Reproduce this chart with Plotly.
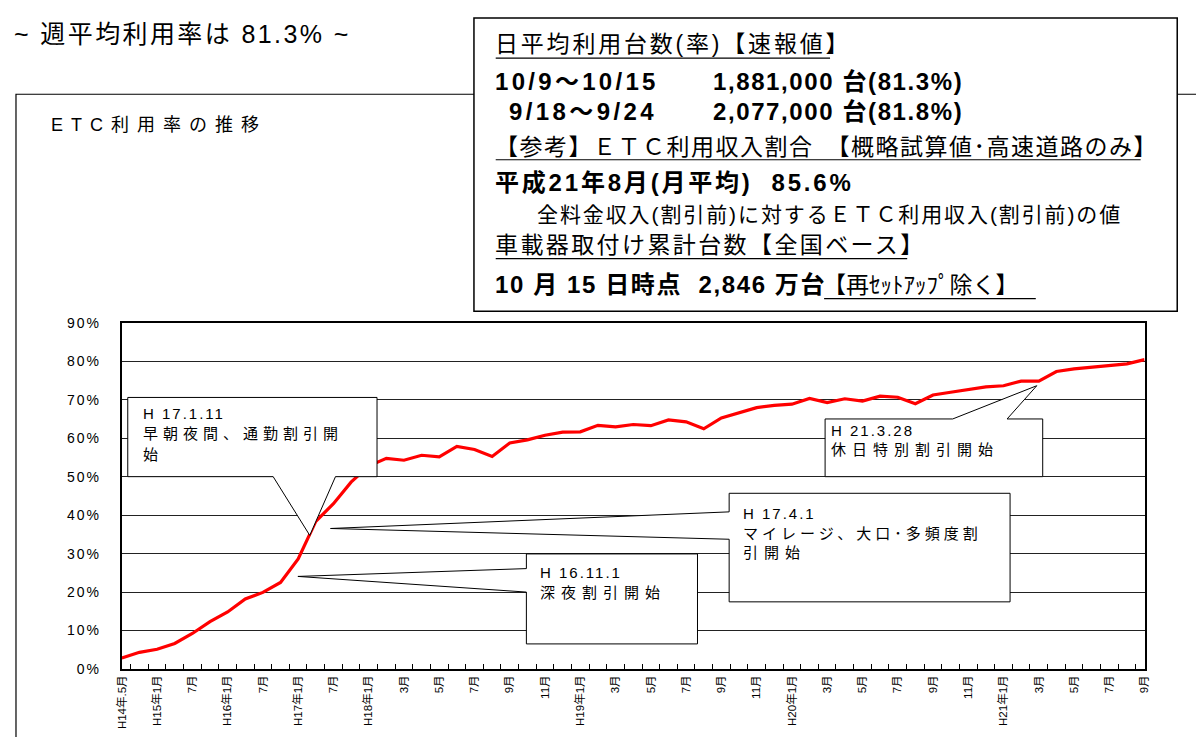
import plotly.graph_objects as go

# ---------------- data ----------------
months = [
    "H14.5", "H14.9", "H15.1", "H15.4", "H15.7", "H15.10", "H16.1", "H16.4", "H16.7", "H16.10",
    "H17.1", "H17.4", "H17.7", "H17.10", "H18.1", "H18.2", "H18.3", "H18.4", "H18.5", "H18.6",
    "H18.7", "H18.8", "H18.9", "H18.10", "H18.11", "H18.12", "H19.1", "H19.2", "H19.3", "H19.4",
    "H19.5", "H19.6", "H19.7", "H19.8", "H19.9", "H19.10", "H19.11", "H19.12", "H20.1", "H20.2",
    "H20.3", "H20.4", "H20.5", "H20.6", "H20.7", "H20.8", "H20.9", "H20.10", "H20.11", "H20.12",
    "H21.1", "H21.2", "H21.3", "H21.4", "H21.5", "H21.6", "H21.7", "H21.8", "H21.9",
]
tick_labels = [
    "H14年.5月", "", "H15年1月", "", "7月", "", "H16年1月", "", "7月", "",
    "H17年1月", "", "7月", "", "H18年1月", "", "3月", "", "5月", "",
    "7月", "", "9月", "", "11月", "", "H19年1月", "", "3月", "",
    "5月", "", "7月", "", "9月", "", "11月", "", "H20年1月", "",
    "3月", "", "5月", "", "7月", "", "9月", "", "11月", "",
    "H21年1月", "", "3月", "", "5月", "", "7月", "", "9月",
]
etc_rate = [
    2.8, 4.3, 5.1, 6.6, 9.2, 12.3, 14.8, 18.2, 19.9, 22.5,
    28.6, 38.4, 43.0, 48.6, 52.8, 54.8, 54.3, 55.6, 55.2, 57.9,
    57.1, 55.3, 58.8, 59.6, 60.8, 61.6, 61.7, 63.4, 63.0, 63.6,
    63.3, 64.8, 64.3, 62.5, 65.3, 66.7, 68.0, 68.6, 68.9, 70.4,
    69.3, 70.3, 69.7, 71.0, 70.7, 69.0, 71.3, 72.0, 72.7, 73.4,
    73.7, 74.9, 74.9, 77.4, 78.1, 78.6, 78.9, 79.4, 80.5,
]
y_ticks = [0, 10, 20, 30, 40, 50, 60, 70, 80, 90]
y_tick_labels = ["0%", "10%", "20%", "30%", "40%", "50%", "60%", "70%", "80%", "90%"]

# the page body has an 8px margin: figure starts at (8, 8) and runs to the window edge
OFF = 8
W, H = 1204 - OFF, 737 - OFF
FONT = "Liberation Sans, Noto Sans CJK JP, sans-serif"


def X(px):
    return (px - OFF) / W


def Y(py):
    return 1 - (py - OFF) / H


fig = go.Figure()
fig.add_trace(go.Scatter(
    x=months, y=etc_rate, mode="lines",
    line=dict(color="#ff0000", width=3.2),
    hoverinfo="skip", showlegend=False,
))

shapes = []
annotations = []


def rect(x0, y0, x1, y1, width=1.0, layer="above"):
    shapes.append(dict(type="rect", xref="paper", yref="paper",
                       x0=X(x0), x1=X(x1), y0=Y(y0), y1=Y(y1),
                       line=dict(color="black", width=width),
                       fillcolor="white", layer=layer))


def hline(x0, x1, y, width=1.2):
    shapes.append(dict(type="line", xref="paper", yref="paper",
                       x0=X(x0), x1=X(x1), y0=Y(y), y1=Y(y),
                       line=dict(color="black", width=width), layer="above"))


def poly(pts, width=1.0):
    d = "M " + " L ".join(f"{X(a):.5f},{Y(b):.5f}" for a, b in pts) + " Z"
    shapes.append(dict(type="path", xref="paper", yref="paper", path=d,
                       line=dict(color="black", width=width),
                       fillcolor="white", layer="above"))


def txt(px, py, text, size, bold=False, ls=0, color="black"):
    t = text
    if ls:
        t = f'<span style="letter-spacing:{ls}px">{t}</span>'
    if bold:
        t = f"<b>{t}</b>"
    annotations.append(dict(x=X(px - 3), y=Y(py), xref="paper", yref="paper",
                            text=t, showarrow=False, xanchor="left", yanchor="middle",
                            align="left", font=dict(family=FONT, size=size, color=color)))


# outer chart frame (right and bottom edges run off the window)
shapes.append(dict(type="rect", xref="paper", yref="paper",
                   x0=X(9), x1=X(1230), y0=Y(88), y1=Y(780),
                   line=dict(color="black", width=1.2), fillcolor="rgba(0,0,0,0)", layer="below"))

# headline
txt(8, 26, "~ 週平均利用率は 81.3% ~", 25, ls=2.4)
# chart title
txt(45, 119, "ETC利用率の推移", 18, ls=8)

# info box
rect(472, 10, 1183, 310, width=1.5)
txt(494, 37, "日平均利用台数(率)【速報値】", 23, ls=2.8)
hline(494, 832, 51)
txt(494, 75, "10/9～10/15", 24, bold=True, ls=3.3)
txt(715, 75, "1,881,000 台(81.3%)", 24, bold=True, ls=1.6)
txt(508, 106, "9/18～9/24", 24, bold=True, ls=3.4)
txt(715, 106, "2,077,000 台(81.8%)", 24, bold=True, ls=1.6)
txt(494, 142, "【参考】ＥＴＣ利用収入割合　【概略試算値･高速道路のみ】", 23, ls=1.5)
hline(494, 1146, 155)
txt(494, 178, "平成21年8月(月平均)  85.6%", 24, bold=True, ls=2.8)
txt(537, 211, "全料金収入(割引前)に対するＥＴＣ利用収入(割引前)の値", 21, ls=1.9)
txt(494, 242, "車載器取付け累計台数【全国ベース】", 23, ls=2.4)
hline(494, 910, 256)
txt(494, 283, "10 月 15 日時点  2,846 万台", 24, bold=True, ls=1.6)
txt(826, 283, "【再ｾｯﾄｱｯﾌﾟ除く】", 23, ls=0)
hline(826, 1040, 297)

# callouts
poly([(122, 398), (374, 398), (374, 479), (332, 479), (306, 539), (269, 479), (122, 479)])
txt(138, 414, "H 17.1.11", 15, ls=2)
txt(138, 435, "早朝夜間、通勤割引開", 15, ls=5)
txt(138, 456, "始", 15, ls=5)

poly([(525, 558), (698, 558), (698, 650), (525, 650), (525, 597), (294, 581), (525, 573)])
txt(540, 577, "H 16.11.1", 15, ls=2)
txt(540, 597, "深夜割引開始", 15, ls=6)

poly([(730, 496), (1014, 496), (1014, 607), (730, 607), (730, 543), (327, 532), (730, 515)])
txt(745, 517, "H 17.4.1", 15, ls=2)
txt(745, 537, "マイレージ、大口･多頻度割", 15, ls=4)
txt(745, 557, "引開始", 15, ls=6)

poly([(827, 420), (956, 420), (1041, 386), (1011, 420), (1047, 420), (1047, 479), (827, 479)])
txt(834, 432, "H 21.3.28", 15, ls=2)
txt(834, 451, "休日特別割引開始", 15, ls=6)

fig.update_layout(
    width=W, height=H,
    margin=dict(l=0, r=0, t=0, b=0),
    paper_bgcolor="white", plot_bgcolor="white",
    font=dict(family=FONT, color="black"),
    shapes=shapes, annotations=annotations,
    showlegend=False,
    xaxis=dict(
        domain=[X(116), X(1150)],
        type="category",
        categoryorder="array", categoryarray=months,
        tickmode="array", tickvals=months, ticktext=tick_labels,
        tickson="boundaries", ticks="inside", ticklen=5, tickwidth=1, tickcolor="black",
        tickangle=-90, tickfont=dict(size=11.5, family=FONT),
        showgrid=False, showline=True, linecolor="black", linewidth=2, mirror=True,
        zeroline=False, fixedrange=True,
    ),
    yaxis=dict(
        domain=[Y(675.5), Y(322)],
        range=[0, 90], tickmode="array", tickvals=y_ticks,
        ticktext=[f'<span style="letter-spacing:2px">{t}</span>' for t in y_tick_labels],
        tickfont=dict(size=14, family=FONT), ticks="", ticklabelstandoff=16,
        showgrid=True, gridcolor="#222222", gridwidth=1,
        showline=True, linecolor="black", linewidth=2, mirror=True,
        zeroline=False, fixedrange=True,
    ),
)

fig.write_html("out.html")
